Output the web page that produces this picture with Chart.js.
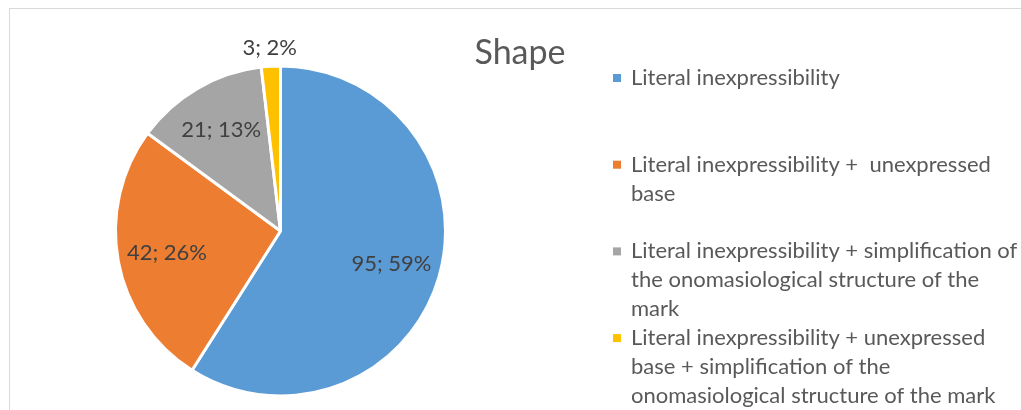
<!DOCTYPE html>
<html>
<head>
<meta charset="utf-8">
<script src="https://cdn.jsdelivr.net/npm/chart.js@4"></script>
<style>
  html, body { margin: 0; padding: 0; background: #fff; overflow: hidden; }
  #wrap { position: relative; width: 1021px; height: 410px; }
  #frame {
    position: absolute; left: 9px; top: 8px; width: 1040px; height: 440px;
    border-left: 1px solid #d9d9d9; border-top: 1px solid #d9d9d9;
  }
  #chart { position: absolute; left: 0; top: 0; }
</style>
</head>
<body>
<div id="wrap">
  <div id="frame"></div>
  <canvas id="chart" width="1021" height="410"></canvas>
</div>
<script>
const titulo = "Shape";

// each category already split into the lines the legend shows
const categorias = [
  ["Literal inexpressibility"],
  ["Literal inexpressibility +  unexpressed", "base"],
  ["Literal inexpressibility + simplification of", "the onomasiological structure of the", "mark"],
  ["Literal inexpressibility + unexpressed", "base + simplification of the", "onomasiological structure of the mark"],
];
const valores = [95, 42, 21, 3];
const cores = ["#5b9bd5", "#ed7d31", "#a5a5a5", "#ffc000"];

const FONTE = "Lato, 'Liberation Sans', sans-serif";

// how far from the centre each value label sits (fraction of the radius)
const distRotulo = [0.70, 0.70, 0.715, 1.12];

// ---------------------------------------------------------
// Value labels "n; p%" on each slice
// ---------------------------------------------------------
const rotulosPlugin = {
  id: "rotulos",
  afterDatasetsDraw(chart) {
    const ctx = chart.ctx;
    const meta = chart.getDatasetMeta(0);
    const total = valores.reduce((a, b) => a + b, 0);
    ctx.save();
    ctx.font = "22px " + FONTE;
    ctx.fillStyle = "#404040";
    ctx.textAlign = "center";
    ctx.textBaseline = "middle";
    meta.data.forEach((arc, i) => {
      const meio = (arc.startAngle + arc.endAngle) / 2;
      const r = arc.outerRadius * distRotulo[i];
      const x = arc.x + Math.cos(meio) * r;
      const y = arc.y + Math.sin(meio) * r;
      const pct = Math.round((valores[i] / total) * 100);
      ctx.fillText(valores[i] + "; " + pct + "%", x, y + 1);
    });
    ctx.restore();
  },
};

// ---------------------------------------------------------
// Title and wrapped legend on the right side
// ---------------------------------------------------------
const legendaPlugin = {
  id: "legendaLateral",
  afterDraw(chart) {
    const ctx = chart.ctx;
    ctx.save();

    ctx.fillStyle = "#595959";
    ctx.font = "34px " + FONTE;
    ctx.textAlign = "center";
    ctx.textBaseline = "middle";
    ctx.fillText(titulo, 520, 53);

    ctx.font = "22px " + FONTE;
    ctx.textAlign = "left";
    const topo = 78, passo = 86.7, linha = 29;
    categorias.forEach((linhas, i) => {
      const y0 = topo + i * passo;
      ctx.fillStyle = cores[i];
      ctx.fillRect(613, y0 - 4, 8, 8);
      ctx.fillStyle = "#595959";
      linhas.forEach((txt, j) => {
        ctx.fillText(txt, 631, y0 + j * linha);
      });
    });
    ctx.restore();
  },
};

new Chart(document.getElementById("chart"), {
  type: "pie",
  data: {
    labels: categorias,
    datasets: [
      {
        data: valores,
        backgroundColor: cores,
        borderColor: "#ffffff",
        borderWidth: 3,
        radius: 165,
      },
    ],
  },
  options: {
    responsive: false,
    animation: false,
    layout: { padding: { left: 117, right: 577, top: 68, bottom: 16 } },
    plugins: {
      legend: { display: false },
      title: { display: false },
      tooltip: { enabled: false },
    },
  },
  plugins: [rotulosPlugin, legendaPlugin],
});
</script>
</body>
</html>
